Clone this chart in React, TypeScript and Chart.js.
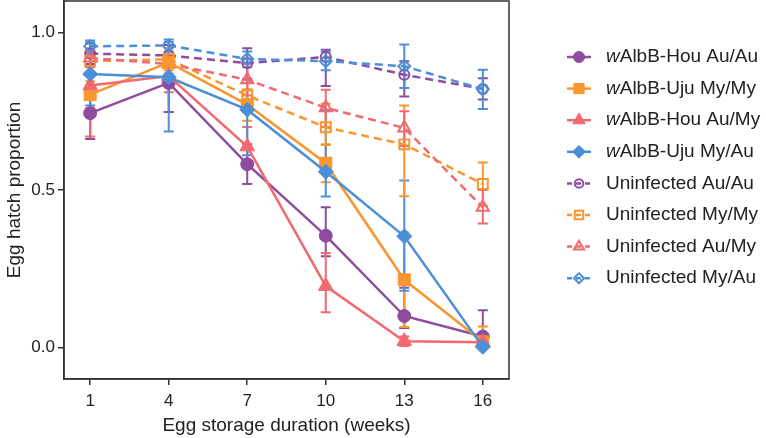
import React, { useEffect, useRef } from 'react';
import { Chart, registerables } from 'chart.js';

Chart.register(...registerables);

const weeks = [1, 4, 7, 10, 13, 16];
const yTicks = [0, 0.5, 1.0];

const seriesLabels = [
  'wAlbB-Hou Au/Au',
  'wAlbB-Uju My/My',
  'wAlbB-Hou Au/My',
  'wAlbB-Uju My/Au',
  'Uninfected Au/Au',
  'Uninfected My/My',
  'Uninfected Au/My',
  'Uninfected My/Au',
];

const houAuAu = [0.744, 0.84, 0.582, 0.355, 0.1, 0.035];
const houAuAuLow = [0.662, 0.748, 0.519, 0.29, 0.062, 0.0];
const houAuAuHigh = [0.826, 0.93, 0.645, 0.445, 0.19, 0.118];

const ujuMyMy = [0.803, 0.905, 0.771, 0.585, 0.215, 0.018];
const ujuMyMyLow = [0.76, 0.86, 0.72, 0.525, 0.065, 0.0];
const ujuMyMyHigh = [0.845, 0.95, 0.82, 0.645, 0.365, 0.067];

const houAuMy = [0.832, 0.862, 0.638, 0.195, 0.02, 0.017];
const houAuMyLow = [0.67, 0.81, 0.57, 0.112, 0.005, 0.005];
const houAuMyHigh = [0.9, 0.91, 0.7, 0.3, 0.035, 0.03];

const ujuMyAu = [0.868, 0.858, 0.755, 0.558, 0.353, 0.002];
const ujuMyAuLow = [0.768, 0.686, 0.61, 0.479, 0.18, 0.0];
const ujuMyAuHigh = [0.968, 0.97, 0.85, 0.755, 0.53, 0.01];

const uniAuAu = [0.933, 0.927, 0.903, 0.922, 0.866, 0.821];
const uniAuAuLow = [0.9, 0.895, 0.853, 0.83, 0.797, 0.787];
const uniAuAuHigh = [0.965, 0.96, 0.95, 0.945, 0.909, 0.855];

const uniMyMy = [0.909, 0.915, 0.8, 0.699, 0.645, 0.519];
const uniMyMyLow = [0.875, 0.88, 0.76, 0.643, 0.48, 0.45];
const uniMyMyHigh = [0.94, 0.95, 0.84, 0.774, 0.768, 0.587];

const uniAuMy = [0.919, 0.9, 0.85, 0.761, 0.697, 0.445];
const uniAuMyLow = [0.89, 0.87, 0.8, 0.7, 0.64, 0.394];
const uniAuMyHigh = [0.95, 0.93, 0.9, 0.818, 0.75, 0.5];

const uniMyAu = [0.956, 0.959, 0.916, 0.909, 0.893, 0.82];
const uniMyAuLow = [0.935, 0.94, 0.89, 0.88, 0.824, 0.757];
const uniMyAuHigh = [0.975, 0.978, 0.94, 0.94, 0.962, 0.882];

const PURPLE = '#8d4c9e';
const ORANGE = '#f8972f';
const RED = '#f06a70';
const BLUE = '#4b8fd8';

const seriesValues = [houAuAu, ujuMyMy, houAuMy, ujuMyAu, uniAuAu, uniMyMy, uniAuMy, uniMyAu];
const seriesLow = [houAuAuLow, ujuMyMyLow, houAuMyLow, ujuMyAuLow, uniAuAuLow, uniMyMyLow, uniAuMyLow, uniMyAuLow];
const seriesHigh = [houAuAuHigh, ujuMyMyHigh, houAuMyHigh, ujuMyAuHigh, uniAuAuHigh, uniMyMyHigh, uniAuMyHigh, uniMyAuHigh];
const seriesColors = [PURPLE, ORANGE, RED, BLUE, PURPLE, ORANGE, RED, BLUE];
const seriesShapes = ['circle', 'rect', 'triangle', 'rectRot', 'circle', 'rect', 'triangle', 'rectRot'];
const seriesOpen = [false, false, false, false, true, true, true, true];

const FONT = '"Liberation Sans", Arial, Helvetica, sans-serif';
const TEXT = '#222222';
const FRAME = '#333333';

function markerRadius(shape: string, open: boolean) {
  if (open) {
    if (shape === 'circle') return 5;
    if (shape === 'rect') return 7;
    if (shape === 'triangle') return 7;
    return 6;
  }
  if (shape === 'circle') return 6.5;
  if (shape === 'rect') return 8.5;
  if (shape === 'triangle') return 8.5;
  return 7.5;
}

function legendRadius(shape: string, open: boolean) {
  return markerRadius(shape, open) * 0.85;
}

const errorBarPlugin = {
  id: 'errorBars',
  beforeDatasetsDraw(chart: any) {
    const { ctx, scales } = chart;
    const xs = scales.x;
    const ys = scales.y;
    ctx.save();
    ctx.beginPath();
    ctx.rect(chart.chartArea.left, chart.chartArea.top, chart.chartArea.right - chart.chartArea.left, chart.chartArea.bottom - chart.chartArea.top);
    ctx.clip();
    seriesValues.forEach((vals, si) => {
      ctx.strokeStyle = seriesColors[si];
      ctx.lineWidth = 2;
      ctx.setLineDash([]);
      vals.forEach((_v, i) => {
        const px = xs.getPixelForValue(weeks[i]);
        const lo = ys.getPixelForValue(seriesLow[si][i]);
        const hi = ys.getPixelForValue(seriesHigh[si][i]);
        ctx.beginPath();
        ctx.moveTo(px, lo);
        ctx.lineTo(px, hi);
        ctx.moveTo(px - 5, lo);
        ctx.lineTo(px + 5, lo);
        ctx.moveTo(px - 5, hi);
        ctx.lineTo(px + 5, hi);
        ctx.stroke();
      });
    });
    ctx.restore();
  },
};

const framePlugin = {
  id: 'frame',
  afterDraw(chart: any) {
    const { ctx, chartArea } = chart;
    ctx.save();
    ctx.strokeStyle = FRAME;
    ctx.lineWidth = 1.5;
    ctx.setLineDash([]);
    ctx.strokeRect(chartArea.left, chartArea.top, chartArea.right - chartArea.left, chartArea.bottom - chartArea.top);
    ctx.restore();
  },
};

function drawShape(ctx: CanvasRenderingContext2D, shape: string, x: number, y: number, r: number, open: boolean, color: string) {
  ctx.beginPath();
  if (shape === 'circle') {
    ctx.arc(x, y, r, 0, Math.PI * 2);
  } else if (shape === 'rect') {
    const s = Math.SQRT1_2 * r;
    ctx.rect(x - s, y - s, 2 * s, 2 * s);
  } else if (shape === 'triangle') {
    const h = r;
    ctx.moveTo(x, y - h);
    ctx.lineTo(x + h * Math.cos(Math.PI / 6), y + h * 0.5);
    ctx.lineTo(x - h * Math.cos(Math.PI / 6), y + h * 0.5);
    ctx.closePath();
  } else {
    ctx.moveTo(x, y - r);
    ctx.lineTo(x + r, y);
    ctx.lineTo(x, y + r);
    ctx.lineTo(x - r, y);
    ctx.closePath();
  }
  if (!open) {
    ctx.fillStyle = color;
    ctx.fill();
  }
  ctx.strokeStyle = color;
  ctx.lineWidth = open ? 2 : 1;
  ctx.stroke();
}

const legendPlugin = {
  id: 'customLegend',
  afterDraw(chart: any) {
    const { ctx } = chart;
    const x0 = 567;
    const x1 = 591;
    const xm = 579;
    const textX = 606;
    const y0 = 57;
    const step = 31.6;
    ctx.save();
    seriesLabels.forEach((label, si) => {
      const y = y0 + si * step;
      const color = seriesColors[si];
      const open = seriesOpen[si];
      const shape = seriesShapes[si];
      ctx.strokeStyle = color;
      ctx.lineWidth = 2.5;
      ctx.setLineDash(open ? [5, 4] : []);
      ctx.beginPath();
      ctx.moveTo(x0, y);
      ctx.lineTo(x1, y);
      ctx.stroke();
      ctx.setLineDash([]);
      drawShape(ctx, shape, xm, y, legendRadius(shape, open), open, color);
      ctx.fillStyle = TEXT;
      ctx.textBaseline = 'middle';
      ctx.textAlign = 'left';
      if (label.startsWith('w')) {
        ctx.font = 'italic 19px ' + FONT;
        ctx.fillText('w', textX, y);
        const wWidth = ctx.measureText('w').width;
        ctx.font = '19px ' + FONT;
        ctx.fillText(label.slice(1), textX + wWidth, y);
      } else {
        ctx.font = '19px ' + FONT;
        ctx.fillText(label, textX, y);
      }
    });
    ctx.restore();
  },
};

export default function App() {
  const canvasRef = useRef<HTMLCanvasElement | null>(null);

  useEffect(() => {
    document.body.style.margin = '0';
    const canvas = canvasRef.current;
    if (!canvas) return;

    const datasets = seriesLabels.map((label, si) => {
      const open = seriesOpen[si];
      const shape = seriesShapes[si];
      return {
        label,
        data: weeks.map((w, i) => ({ x: w, y: seriesValues[si][i] })),
        borderColor: seriesColors[si],
        backgroundColor: open ? 'rgba(255,255,255,0)' : seriesColors[si],
        pointBackgroundColor: open ? 'rgba(255,255,255,0)' : seriesColors[si],
        pointBorderColor: seriesColors[si],
        pointBorderWidth: open ? 2 : 1,
        pointStyle: shape,
        pointRadius: markerRadius(shape, open),
        pointHoverRadius: markerRadius(shape, open),
        borderWidth: 2.5,
        borderDash: open ? [8, 5] : [],
        tension: 0,
        fill: false,
        order: si < 4 ? 8 - si : 16 - si,
      };
    });

    const chart = new Chart(canvas, {
      type: 'line',
      data: { datasets: datasets as any },
      options: {
        responsive: false,
        animation: false,
        devicePixelRatio: 1,
        layout: { autoPadding: false, padding: { top: 1, right: 257, left: 0, bottom: 0 } },
        plugins: {
          legend: { display: false },
          tooltip: { enabled: false },
        },
        scales: {
          x: {
            type: 'linear',
            min: 0,
            max: 17,
            afterBuildTicks: (s: any) => {
              s.ticks = weeks.map((v) => ({ value: v }));
            },
            afterFit: (s: any) => {
              s.height = 59;
              s.paddingLeft = 0;
              s.paddingRight = 0;
            },
            ticks: {
              font: { size: 17, family: FONT },
              color: TEXT,
              padding: 6,
              maxRotation: 0,
              callback: (v: any) => String(v),
            },
            grid: {
              display: true,
              drawOnChartArea: false,
              drawTicks: true,
              tickLength: 6,
              color: FRAME,
              lineWidth: 1.5,
            },
            border: { display: true, color: FRAME, width: 1.5 },
            title: {
              display: true,
              text: 'Egg storage duration (weeks)',
              font: { size: 19, family: FONT },
              color: TEXT,
              padding: { top: 2, bottom: 1 },
            },
          },
          y: {
            type: 'linear',
            min: -0.1,
            max: 1.1,
            afterBuildTicks: (s: any) => {
              s.ticks = yTicks.map((v) => ({ value: v }));
            },
            afterFit: (s: any) => {
              s.width = 64;
              s.paddingTop = 0;
              s.paddingBottom = 0;
            },
            ticks: {
              font: { size: 17, family: FONT },
              color: TEXT,
              padding: 3,
              callback: (v: any) => Number(v).toFixed(1),
            },
            grid: {
              display: true,
              drawOnChartArea: false,
              drawTicks: true,
              tickLength: 6,
              color: FRAME,
              lineWidth: 1.5,
            },
            border: { display: true, color: FRAME, width: 1.5 },
            title: {
              display: true,
              text: 'Egg hatch proportion',
              font: { size: 19, family: FONT },
              color: TEXT,
              padding: { top: 3, bottom: 2 },
            },
          },
        },
      },
      plugins: [errorBarPlugin, framePlugin, legendPlugin],
    });

    return () => {
      chart.destroy();
    };
  }, []);

  return (
    <div style={{ width: 766, height: 438, position: 'relative', background: '#fff' }}>
      <canvas ref={canvasRef} width={766} height={438} style={{ display: 'block' }} />
    </div>
  );
}
